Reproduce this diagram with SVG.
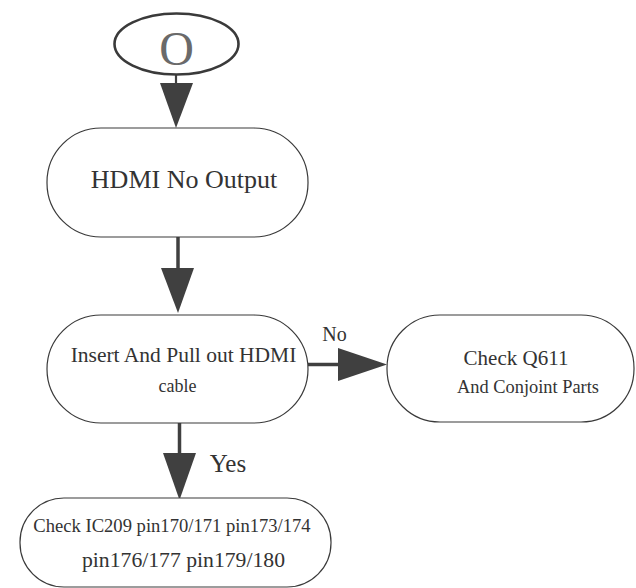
<svg xmlns="http://www.w3.org/2000/svg" width="636" height="588" viewBox="0 0 636 588">
<style>
.node{fill:#fff;stroke:#3a3a3a;stroke-width:1.2}
.start{fill:#fff;stroke:#3a3a3a;stroke-width:2.6}
.t{font-family:"Liberation Serif","Times New Roman",serif;fill:#333;text-anchor:middle}
.o{fill:#6a6a6a}
.ln{stroke:#404040;stroke-width:3.5;fill:none}
.ah{fill:#404040;stroke:none}
</style>
<rect width="636" height="588" fill="#fff"/>
<g id="connectors">
<line class="ln" x1="176" y1="75" x2="176" y2="85" style="stroke-width:2.2"/>
<polygon class="ah" points="160,83 193,83 176,128"/>
<line class="ln" x1="178" y1="237" x2="178" y2="272"/>
<polygon class="ah" points="161,268 194,268 178,313"/>
<line class="ln" x1="308" y1="364.5" x2="340" y2="364.5"/>
<polygon class="ah" points="338,348 338,381 387,364.5"/>
<text class="t" x="334.5" y="341" font-size="20">No</text>
<line class="ln" x1="179.5" y1="423" x2="179.5" y2="456"/>
<polygon class="ah" points="163,453 196,453 179.5,500"/>
<text class="t" x="228" y="472" font-size="25">Yes</text>
</g>
<g id="start">
<ellipse class="start" cx="176.5" cy="44" rx="62" ry="30.5"/>
<text class="t o" x="176.5" y="65" font-size="48">O</text>
</g>
<g id="hdmi-no-output">
<rect class="node" x="47" y="128" width="261" height="109" rx="54" ry="54"/>
<text class="t" x="184" y="188" font-size="26">HDMI No Output</text>
</g>
<g id="insert-pull">
<rect class="node" x="47" y="315" width="261" height="108" rx="54" ry="54"/>
<text class="t" x="183.5" y="362" font-size="21.5">Insert And Pull out HDMI</text>
<text class="t" x="177.5" y="392" font-size="18">cable</text>
</g>
<g id="check-q611">
<rect class="node" x="387" y="315" width="247" height="107" rx="53" ry="53"/>
<text class="t" x="516" y="365" font-size="21">Check Q611</text>
<text class="t" x="528" y="393" font-size="18.4">And Conjoint Parts</text>
</g>
<g id="check-ic209">
<rect class="node" x="20" y="498" width="311" height="89" rx="44" ry="44"/>
<text class="t" x="172" y="532" font-size="18.6">Check IC209 pin170/171 pin173/174</text>
<text class="t" x="183.5" y="567" font-size="21.7">pin176/177 pin179/180</text>
</g>
</svg>
